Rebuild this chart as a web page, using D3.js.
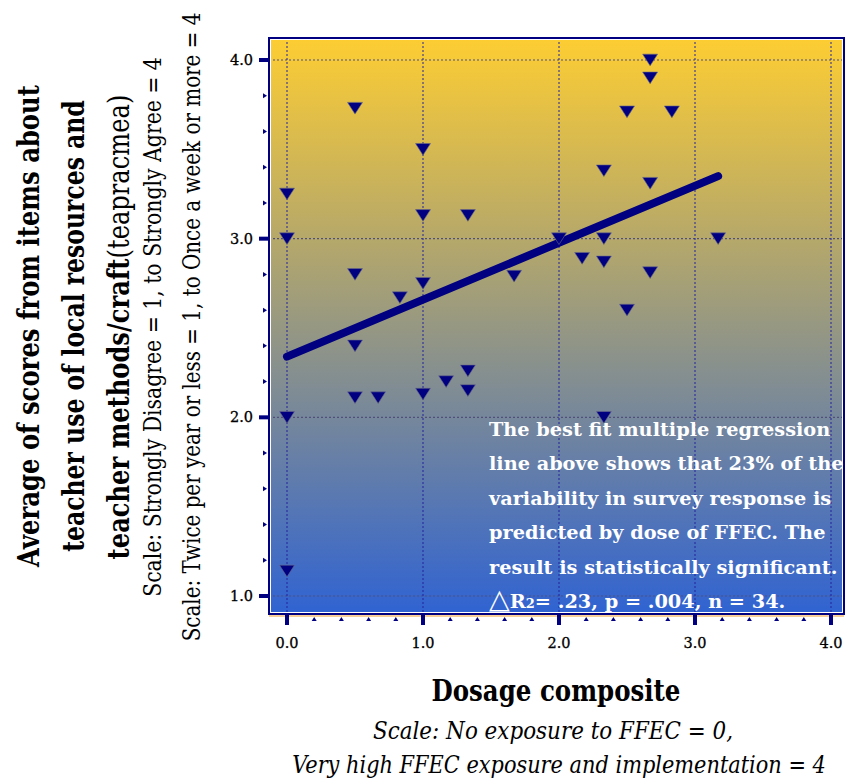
<!DOCTYPE html>
<html>
<head>
<meta charset="utf-8">
<script src="https://cdn.jsdelivr.net/npm/d3@7"></script>
<style>
  html, body { margin: 0; padding: 0; background: #fff; }
  svg { display: block; }
  .serif { font-family: "DejaVu Serif", serif; }
</style>
</head>
<body>
<div id="chart"></div>
<script>
// Dosage composite (x) and teapracmea score (y), one entry per visible marker
const dosage = [0, 0, 0, 0, 0.5, 0.5, 0.5, 0.5, 0.67, 0.83, 1, 1, 1, 1, 1.17, 1.33, 1.33, 1.33,
  1.67, 2.0, 2.17, 2.33, 2.33, 2.33, 2.33, 2.5, 2.5, 2.67, 2.67, 2.67, 2.67, 2.83, 3.17];
const scores = [3.25, 3.0, 2.0, 1.14, 3.73, 2.8, 2.4, 2.11, 2.11, 2.67, 3.5, 3.13, 2.75, 2.13, 2.2, 3.13, 2.26, 2.15,
  2.79, 3.0, 2.89, 3.38, 3.0, 2.87, 2.0, 3.71, 2.6, 4.0, 3.9, 3.31, 2.81, 3.71, 3.0];

// fitted regression line end points
const fitX = [0, 3.17];
const fitY = [2.34, 3.35];

const xTicks = [0, 1, 2, 3, 4];
const yTicks = [1, 2, 3, 4];

const yTitleBold = ['Average of scores from items about', 'teacher use of local resources and'];
const yTitleLine3 = ['teacher methods/craft', '(teapracmea)'];
const yScaleNotes = ['Scale: Strongly Disagree = 1, to Strongly Agree = 4',
  'Scale: Twice per year or less = 1, to Once a week or more = 4'];
const xTitle = 'Dosage composite';
const xNotes = ['Scale: No exposure to FFEC = 0,', 'Very high FFEC exposure and implementation = 4'];
const noteLines = ['The best fit multiple regression', 'line above shows that 23% of the',
  'variability in survey response is', 'predicted by dose of FFEC. The', 'result is statistically significant.'];

const W = 846, H = 778;
const NAVY = '#000080';
const frame = { left: 269, right: 844, top: 38, bottom: 614 };

const svg = d3.select('#chart').append('svg')
  .attr('width', W).attr('height', H);

svg.append('rect').attr('width', W).attr('height', H).attr('fill', '#fff');

const x = d3.scaleLinear().domain([0, 4]).range([287, 831]);
const y = d3.scaleLinear().domain([1, 4]).range([596, 60]);

// background gradient
const defs = svg.append('defs');
const grad = defs.append('linearGradient').attr('id', 'bg')
  .attr('x1', 0).attr('y1', 0).attr('x2', 0).attr('y2', 1);
grad.append('stop').attr('offset', '0%').attr('stop-color', '#fdcd32');
grad.append('stop').attr('offset', '100%').attr('stop-color', '#3063d2');

svg.append('rect')
  .attr('x', frame.left).attr('y', frame.top)
  .attr('width', frame.right - frame.left).attr('height', frame.bottom - frame.top)
  .attr('fill', 'url(#bg)');

// grid
const grid = svg.append('g');
grid.selectAll('line.h').data(yTicks).enter().append('line')
  .attr('x1', frame.left).attr('x2', frame.right)
  .attr('y1', d => y(d)).attr('y2', d => y(d))
  .attr('stroke', '#50507a').attr('stroke-width', 1.2).attr('stroke-dasharray', '2,2');
grid.selectAll('line.v').data(xTicks).enter().append('line')
  .attr('x1', d => x(d)).attr('x2', d => x(d))
  .attr('y1', frame.top).attr('y2', frame.bottom)
  .attr('stroke', '#22229a').attr('stroke-width', 1).attr('stroke-dasharray', '2,2');

// frame
svg.append('rect')
  .attr('x', frame.left + 1.5).attr('y', frame.top + 1.5)
  .attr('width', frame.right - frame.left - 3).attr('height', frame.bottom - frame.top - 3)
  .attr('fill', 'none').attr('stroke', '#fff').attr('stroke-width', 1);
svg.append('line')
  .attr('x1', frame.left).attr('x2', frame.right)
  .attr('y1', frame.bottom + 2).attr('y2', frame.bottom + 2)
  .attr('stroke', '#f0a030').attr('stroke-width', 1);
svg.append('rect')
  .attr('x', frame.left).attr('y', frame.top)
  .attr('width', frame.right - frame.left).attr('height', frame.bottom - frame.top)
  .attr('fill', 'none').attr('stroke', NAVY).attr('stroke-width', 2);

// regression line
const fit = fitX.map((v, i) => ({ x: v, y: fitY[i] }));
svg.append('path')
  .datum(fit)
  .attr('d', d3.line().x(d => x(d.x)).y(d => y(d.y)))
  .attr('fill', 'none').attr('stroke', NAVY)
  .attr('stroke-width', 8).attr('stroke-linecap', 'round');

// markers: down-pointing triangles, bbox centred on the value
const downTri = {
  draw(ctx, size) {
    const w = Math.sqrt(size) / 2, h = w * 0.78;
    ctx.moveTo(-w, -h); ctx.lineTo(w, -h); ctx.lineTo(0, h); ctx.closePath();
  }
};
const pts = dosage.map((v, i) => ({ x: v, y: scores[i] }));
svg.append('g').selectAll('path').data(pts).enter().append('path')
  .attr('transform', d => `translate(${x(d.x)},${y(d.y)})`)
  .attr('d', d3.symbol().type(downTri).size(225))
  .attr('fill', NAVY).attr('stroke', '#6a6a8a').attr('stroke-width', 0.6);

// y axis ticks
const yAx = svg.append('g');
yAx.selectAll('rect').data(yTicks).enter().append('rect')
  .attr('x', 259).attr('y', d => y(d) - 2).attr('width', 10).attr('height', 4)
  .attr('fill', NAVY);
const yMinor = d3.range(1, 4, 0.2).filter(v => Math.abs(v - Math.round(v)) > 0.01);
const rightTri = { draw(ctx) { ctx.moveTo(0, -2.5); ctx.lineTo(4, 0); ctx.lineTo(0, 2.5); ctx.closePath(); } };
yAx.selectAll('path').data(yMinor).enter().append('path')
  .attr('transform', d => `translate(263,${y(d)})`)
  .attr('d', d3.symbol().type(rightTri)).attr('fill', NAVY);
yAx.selectAll('text').data(yTicks).enter().append('text')
  .attr('x', 253).attr('y', d => y(d) + 5)
  .attr('text-anchor', 'end').attr('class', 'serif')
  .attr('font-size', 14.5).attr('fill', '#000').attr('stroke', '#000').attr('stroke-width', 0.3)
  .text(d => d3.format('.1f')(d));

// x axis ticks
const xAx = svg.append('g');
xAx.selectAll('rect').data(xTicks).enter().append('rect')
  .attr('x', d => x(d) - 2).attr('y', frame.bottom + 1).attr('width', 4).attr('height', 10)
  .attr('fill', NAVY);
const xMinor = d3.range(0, 4, 0.2).filter(v => Math.abs(v - Math.round(v)) > 0.01);
const upTri = { draw(ctx) { ctx.moveTo(-2.5, 2); ctx.lineTo(0, -2); ctx.lineTo(2.5, 2); ctx.closePath(); } };
xAx.selectAll('path').data(xMinor).enter().append('path')
  .attr('transform', d => `translate(${x(d)},${frame.bottom + 5})`)
  .attr('d', d3.symbol().type(upTri)).attr('fill', NAVY);
xAx.selectAll('text').data(xTicks).enter().append('text')
  .attr('x', d => x(d)).attr('y', 648)
  .attr('text-anchor', 'middle').attr('class', 'serif')
  .attr('font-size', 14.5).attr('fill', '#000').attr('stroke', '#000').attr('stroke-width', 0.3)
  .text(d => d3.format('.1f')(d));

// annotation inside plot
const note = svg.append('g').attr('class', 'serif')
  .attr('font-weight', 'bold').attr('font-size', 19.3).attr('fill', '#fff');
note.selectAll('text').data(noteLines).enter().append('text')
  .attr('x', 489).attr('y', (d, i) => 436 + i * 34.4)
  .text(d => d);
const stat = note.append('text').attr('x', 489).attr('y', 436 + 5 * 34.4);
stat.append('tspan').attr('font-family', 'DejaVu Sans').attr('font-weight', 'normal')
  .attr('font-size', 27).text('\u25B3');
stat.append('tspan').text('R');
stat.append('tspan').attr('font-size', 13).text('2');
stat.append('tspan').text('= .23, p = .004, n = 34.');

// condense a centred text horizontally so it spans `len` px, centred on cx
function squeeze(sel, len, cx) {
  const s = len / sel.node().getComputedTextLength();
  sel.attr('x', cx / s).attr('transform', `scale(${s},1)`);
}

// y axis title (rotated)
const yt = svg.append('g').attr('transform', 'rotate(-90)')
  .attr('class', 'serif').attr('fill', '#000').attr('text-anchor', 'middle');
const boldLens = [482, 452];
yTitleBold.forEach((t, i) => {
  const el = yt.append('text').attr('y', 39 + i * 45)
    .attr('font-size', 29).attr('font-weight', 'bold').text(t);
  squeeze(el, boldLens[i], -326);
});
const l3 = yt.append('text').attr('y', 129).attr('font-size', 29);
l3.append('tspan').attr('font-weight', 'bold').text(yTitleLine3[0]);
l3.append('tspan').text(yTitleLine3[1]);
squeeze(l3, 465, -327);
const noteLens = [540, 629];
yScaleNotes.forEach((t, i) => {
  const el = yt.append('text').attr('y', 161 + i * 39.5).attr('font-size', 23.5).text(t);
  squeeze(el, noteLens[i], -327);
});

// x axis title and scale notes
const xt = svg.append('text').attr('class', 'serif')
  .attr('y', 701).attr('text-anchor', 'middle')
  .attr('font-weight', 'bold').attr('font-size', 29)
  .text(xTitle);
squeeze(xt, 249, 556);
const xnLens = [360, 534];
xNotes.forEach((t, i) => {
  const el = svg.append('text').attr('class', 'serif')
    .attr('y', 739 + i * 34).attr('text-anchor', 'middle')
    .attr('font-style', 'italic').attr('font-size', 23.5).text(t);
  squeeze(el, xnLens[i], i ? 559 : 553);
});
</script>
</body>
</html>
